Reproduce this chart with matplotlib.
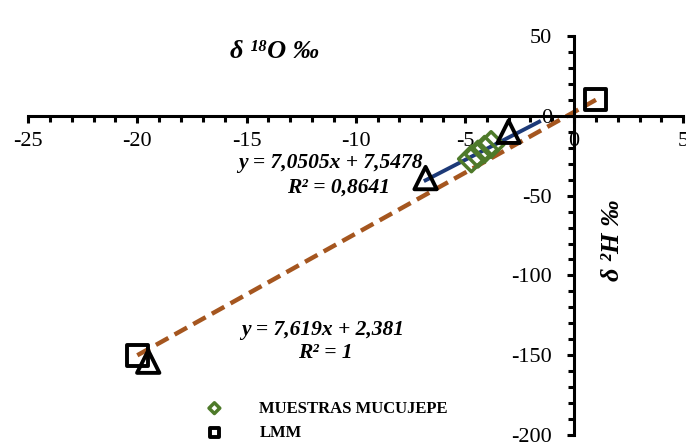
import numpy as np
import matplotlib
matplotlib.use("Agg")
import matplotlib.pyplot as plt
from matplotlib.ticker import MultipleLocator

# Data
muestras_x = [-4.7, -4.4, -4.1, -3.8]
muestras_y = [-27.0, -24.0, -21.0, -18.0]
lmm_x = [-20.0, 1.0]
lmm_y = [-150.0, 10.0]
tri_x = [-6.8, -3.0, -19.5]
tri_y = [-39.0, -10.0, -154.0]

# trend lines (coefficients shown on the chart)
fit_local = (7.0505, 7.5478)
fit_lmm = (7.619, 2.381)
local_range = [-6.8, -1.6]
lmm_range = [-20.0, 1.0]

serif = ['Liberation Serif', 'DejaVu Serif']
plt.rcParams['font.family'] = serif

fig = plt.figure(figsize=(6.86, 4.44), dpi=100)
ax = fig.add_axes([0.041, 0.020, 0.955, 0.899])

brown = '#a5561f'
navy = '#1d3a78'
green = '#4e7a2a'

xl = np.array(lmm_range)
ax.plot(xl, fit_lmm[0] * xl + fit_lmm[1], color=brown, lw=3.2,
        dashes=(3.2, 1.6), zorder=2)
xb = np.array(local_range)
ax.plot(xb, fit_local[0] * xb + fit_local[1], color=navy, lw=2.8, zorder=3)

ax.scatter(muestras_x, muestras_y, marker='D', s=170, facecolors='none',
           edgecolors=green, linewidths=2.5, zorder=4, label='MUESTRAS MUCUJEPE')
ax.scatter(lmm_x, lmm_y, marker='s', s=230, facecolors='none',
           edgecolors='black', linewidths=2.8, zorder=5, label='LMM')
ax.scatter(tri_x, tri_y, marker='^', s=260, facecolors='none',
           edgecolors='black', linewidths=2.8, zorder=5)

ax.set_xlim(-25, 5)
ax.set_ylim(-200, 50)

ax.spines['left'].set_position(('data', 0))
ax.spines['bottom'].set_position(('data', 0))
ax.spines['top'].set_visible(False)
ax.spines['right'].set_visible(False)
for s in ('left', 'bottom'):
    ax.spines[s].set_linewidth(2.2)

ax.xaxis.set_major_locator(MultipleLocator(5))
ax.xaxis.set_minor_locator(MultipleLocator(1))
ax.yaxis.set_major_locator(MultipleLocator(50))
ax.yaxis.set_minor_locator(MultipleLocator(10))
ax.tick_params(axis='both', which='both', direction='out', width=2.2,
               labelsize=16)
ax.tick_params(axis='both', which='major', length=5)
ax.tick_params(axis='both', which='minor', length=4)
ax.tick_params(axis='x', pad=7)
ax.tick_params(axis='y', pad=11)
ax.set_xticks([-25, -20, -15, -10, -5, 0, 5])
ax.set_xticklabels(['-25', '-20', '-15', '-10', '-5', '0', '5'])
ax.set_yticks([50, 0, -50, -100, -150, -200])
ax.set_yticklabels(['50', '0', '-50', '-100', '-150', '-200'])

# axis titles
fig.text(0.40, 0.885, 'δ ¹⁸O ‰', fontsize=19, fontweight='bold',
         fontstyle='italic', ha='center', va='center', family=serif)
fig.text(0.893, 0.46, 'δ ²H ‰', fontsize=19, fontweight='bold',
         fontstyle='italic', ha='center', va='center', rotation=90,
         family=serif)

# trend line equations
eq = dict(fontsize=15.5, fontweight='bold', fontstyle='italic',
          ha='center', va='center', transform=fig.transFigure)
fig.text(0.481, 0.632, 'y = 7,0505x + 7,5478', **eq)
fig.text(0.494, 0.577, 'R² = 0,8641', **eq)
fig.text(0.470, 0.257, 'y = 7,619x + 2,381', **eq)
fig.text(0.474, 0.205, 'R² = 1', **eq)

leg = ax.legend(loc='lower left', bbox_to_anchor=(0.236, -0.052), frameon=False,
                prop={'family': serif, 'weight': 'bold', 'size': 12},
                handletextpad=1.7, markerscale=0.42, labelspacing=0.5)

fig.savefig('out.png', dpi=100)
